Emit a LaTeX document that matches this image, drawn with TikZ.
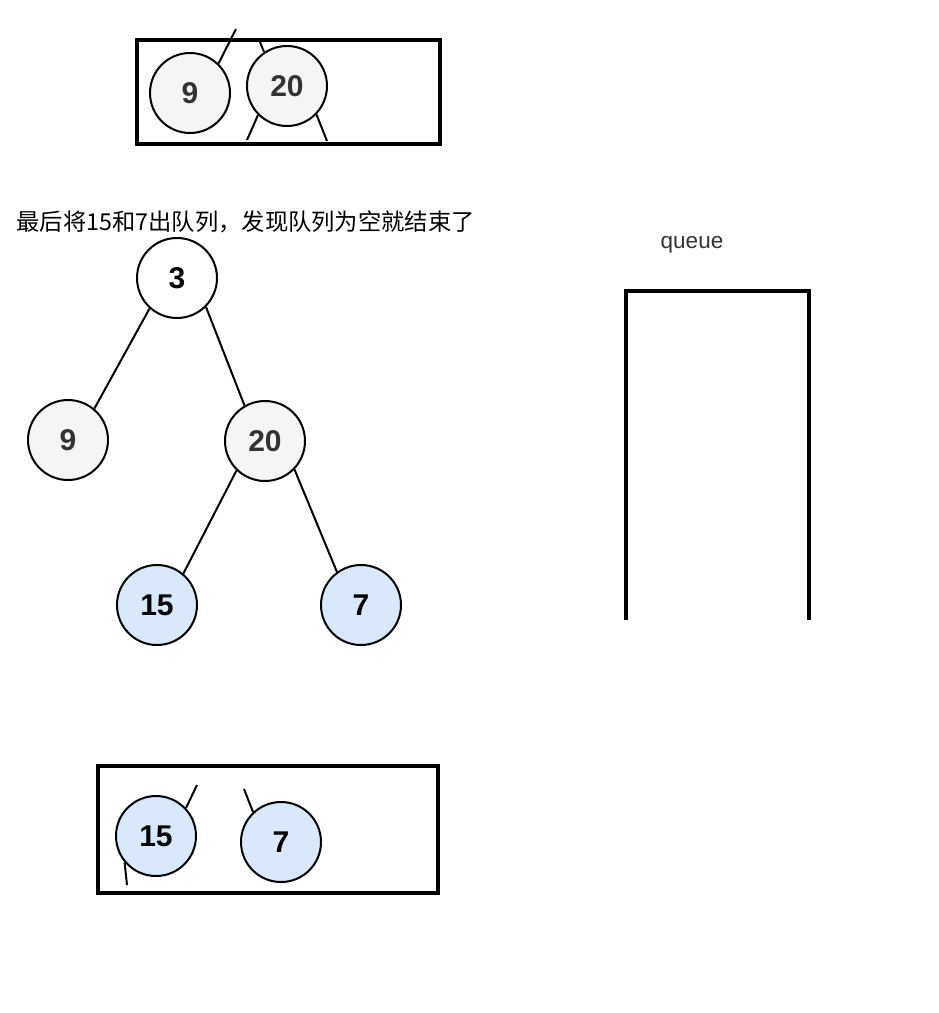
\documentclass[tikz,border=0pt]{standalone}
\usepackage{fontspec}
\setmainfont{Liberation Sans}
\newfontfamily\cjk{Noto Sans CJK SC}
\usetikzlibrary{positioning}
\definecolor{grayfill}{HTML}{F5F5F5}
\definecolor{bluefill}{HTML}{DAE8FC}
\definecolor{ink}{HTML}{333333}
\tikzset{tnode/.style={draw=black,circle,line width=2pt,minimum size=80pt,inner sep=0pt,font=\fontsize{30}{30}\selectfont\bfseries},graynode/.style={tnode,fill=grayfill,text=ink},bluenode/.style={tnode,fill=bluefill},frame/.style={draw=black,line width=4pt},edge/.style={draw=black,line width=2pt}}

\begin{document}
\begin{tikzpicture}[x=1pt,y=-1pt]
\useasboundingbox (0,0) rectangle (939,1013);
% top box
\draw[frame] (137,40) rectangle (440,144);
\node[graynode] (t9) at (190,93) {9};
\node[graynode] (t20) at (287,86) {20};
\coordinate (t9up) at (236,29);
\coordinate (t20up) at (260,42);
\coordinate (t20dl) at (247,140);
\coordinate (t20dr) at (327,141);
\draw[edge] (t9.46)--(t9up);
\foreach \a/\b in {124/t20up,225/t20dl,316/t20dr}\draw[edge] (t20.\a)--(\b);
% caption
\node[anchor=west,font=\cjk\fontsize{23.3}{23.3}\selectfont] (title) at (13,222) {最后将15和7出队列，发现队列为空就结束了};
% tree
\node[tnode,fill=white] (n3) at (177,278) {3};
\node[graynode] (n9) at (68,440) {9};
\node[graynode] (n20) at (265,441) {20};
\node[bluenode] (n15) at (157,605) {15};
\node[bluenode] (n7) at (361,605) {7};
\draw[edge] (n3.228)--(n9.50);
\draw[edge] (n3.315)--(n20.120);
\draw[edge] (n20.226)--(n15.50);
\draw[edge] (n20.316)--(n7.126);
% queue
\node[font=\fontsize{22.5}{22.5}\selectfont,text=ink] (qlabel) at (692,245) {queue};
\draw[frame] (626,620) -- (626,291) -- (809,291) -- (809,620);
% bottom box
\draw[frame] (98,766) rectangle (438,893);
\node[bluenode] (b15) at (156,836) {15};
\node[bluenode] (b7) at (281,842) {7};
\coordinate (b15up) at (197,785);
\coordinate (b7up) at (244,789);
\coordinate (b15dl) at (127,885);
\draw[edge] (b15.43)--(b15up);
\draw[edge] (b7.133)--(b7up);
\draw[edge] (b15.220)--(b15dl);
\end{tikzpicture}
\end{document}
